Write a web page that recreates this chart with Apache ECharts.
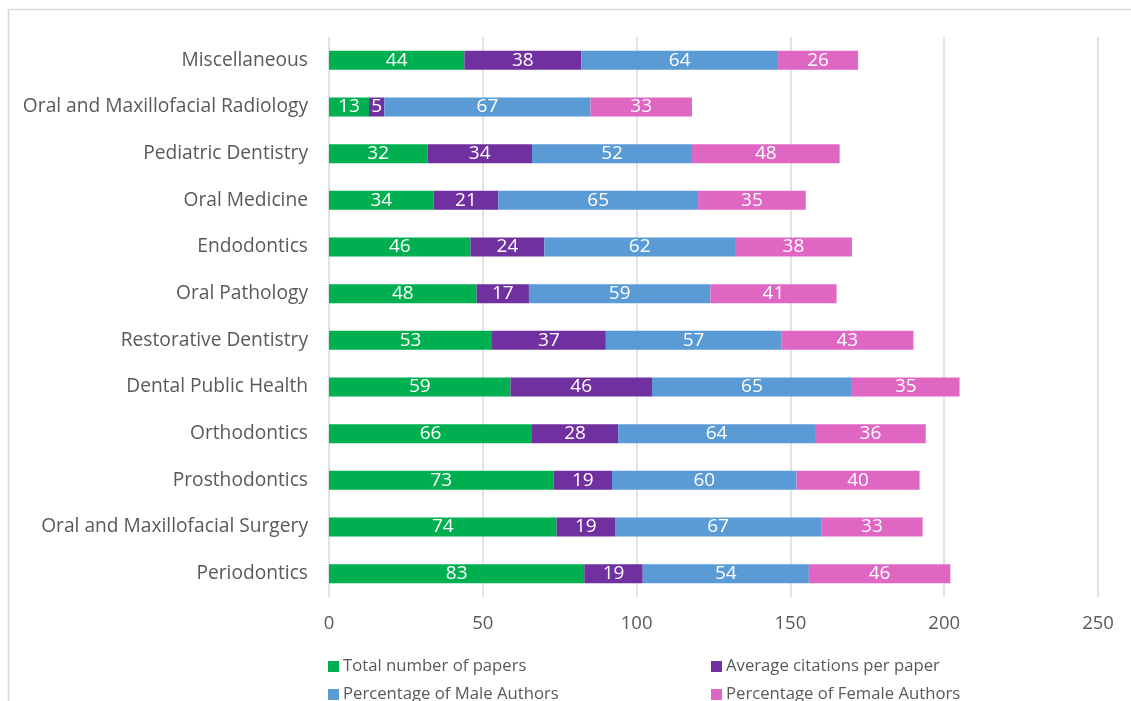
<!DOCTYPE html>
<html><head><meta charset="utf-8">
<script src="https://cdn.jsdelivr.net/npm/echarts@6/dist/echarts.min.js"></script>
<style>html,body{margin:0;padding:0;background:#fff}#c{width:1131px;height:701px}</style>
</head><body><div id="c"></div>
<script>
const categories = ["Miscellaneous","Oral and Maxillofacial Radiology","Pediatric Dentistry","Oral Medicine","Endodontics","Oral Pathology","Restorative Dentistry","Dental Public Health","Orthodontics","Prosthodontics","Oral and Maxillofacial Surgery","Periodontics"];
const totalPapers = [44,13,32,34,46,48,53,59,66,73,74,83];
const avgCitations = [38,5,34,21,24,17,37,46,28,19,19,19];
const malePct = [64,67,52,65,62,59,57,65,64,60,67,54];
const femalePct = [26,33,48,35,38,41,43,35,36,40,33,46];
const seriesNames = ["Total number of papers","Average citations per paper","Percentage of Male Authors","Percentage of Female Authors"];
const colors = ["#00B050","#7030A0","#5B9BD5","#E066C4"];
const font = "'Open Sans', 'Noto Sans', sans-serif";
const chart = echarts.init(document.getElementById('c'));
const mk = (i, d) => ({
  name: seriesNames[i], type: 'bar', stack: 'a', data: d, barWidth: 19,
  itemStyle: {color: colors[i]},
  label: {show: true, position: 'inside', color: '#fff', fontSize: 19, fontFamily: font}
});
const legendPos = [[323, 653], [706, 653], [323, 681], [706, 681]];
const legendOrder = [0, 1, 2, 3];
chart.setOption({
  animation: false,
  color: colors,
  graphic: [{type:'rect', shape:{x:8.5,y:9.5,width:1140,height:720}, style:{fill:'none', stroke:'#d9d9d9', lineWidth:1.5}, silent:true}],
  grid: {left: 329, right: 33, top: 37, bottom: 104, containLabel: false},
  xAxis: {type: 'value', min: 0, max: 250, interval: 50,
    axisLine: {show: false}, axisTick: {show: false},
    splitLine: {lineStyle: {color: '#d9d9d9', width: 1.5}},
    axisLabel: {color: '#595959', fontSize: 18.5, fontFamily: font, margin: 17}},
  yAxis: {type: 'category', data: categories, inverse: true,
    axisLine: {show: false}, axisTick: {show: false},
    axisLabel: {color: '#595959', fontSize: 19.2, fontFamily: font, margin: 21}},
  legend: legendOrder.map((s, k) => ({
    data: [seriesNames[s]], left: legendPos[k][0], top: legendPos[k][1],
    icon: 'rect', itemWidth: 11, itemHeight: 11, itemGap: 4,
    textStyle: {color: '#595959', fontSize: 16.7, fontFamily: font, padding: [0,0,0,-1]}
  })),
  series: [mk(0,totalPapers), mk(1,avgCitations), mk(2,malePct), mk(3,femalePct)]
});
</script></body></html>
